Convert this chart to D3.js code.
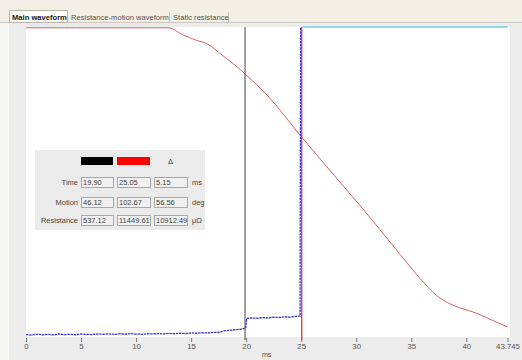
<!DOCTYPE html>
<html><head><meta charset="utf-8">
<script src="https://cdn.jsdelivr.net/npm/d3@7"></script>
<style>
html,body{margin:0;padding:0;background:#f6f6f3;}
svg{display:block;font-family:"Liberation Sans",Arial,sans-serif;}
</style></head>
<body><svg id="c" width="522" height="360"></svg>
<script>
// ---- data ----
const tabs = ["Main waveform", "Resistance-motion waveform", "Static resistance"];
const xTicks = [0, 5, 10, 15, 20, 25, 30, 35, 40, 43.745];
const xUnit = "ms";

// motion trace (red), deg
const motionTime = [0, 12.9, 14.3, 15.4, 16.5, 17.8, 19.2, 20.0, 21.9, 25.05, 28.0, 31.3, 34.0, 36.3, 37.3, 38.3, 39.5, 40.9, 41.9, 43.745];
const motionVal  = [3.0, 3.0, 9.6, 14.1, 17.8, 27.8, 38.7, 46.0, 64.3, 102.7, 137.5, 176.4, 209.7, 237.1, 247.0, 253.5, 258.5, 263.0, 267.5, 275.7];

// resistance trace (blue), µΩ
const resTime = [0,0.5,1,1.5,2,2.5,3,3.5,4,4.5,5,5.5,6,6.5,7,7.5,8,8.5,9,9.5,10,10.5,11,11.5,12,12.5,13,13.5,14,14.5,15,15.5,16,16.5,17,17.5,18,18.5,19,19.5,19.95,20.05,20.5,21,21.5,22,22.5,23,23.5,24,24.5,24.9,24.95];
const resVal  = [190,150,210,170,200,160,230,180,210,175,240,200,190,230,210,250,200,240,215,260,230,210,250,235,260,240,280,250,290,270,300,290,330,310,360,350,470,520,560,600,690,1430,1470,1450,1500,1480,1530,1510,1560,1540,1600,1620,24000];

// over-range trace (cyan)
const overTime = [25.15, 43.745];
const overVal  = [24000, 24000];

// cursors
const cursorTimes = [19.90, 25.05];
const cursorColors = ["#000000", "#ff0000"];
const rowLabels = ["Time", "Motion", "Resistance"];
const rowUnits = ["ms", "deg", "μΩ"];
const rowValues = [
  ["19.90", "25.05", "5.15"],
  ["46.12", "102.67", "56.56"],
  ["537.12", "11449.61", "10912.49"]
];

// ---- drawing ----
(function(){
const svg = d3.select("#c");

// tab strip
svg.append("rect").attr("x",0).attr("y",0).attr("width",522).attr("height",23).attr("fill","#f1efe6");
svg.append("rect").attr("x",0).attr("y",23).attr("width",522).attr("height",337).attr("fill","#f7f7f5");
svg.append("rect").attr("x",9).attr("y",23).attr("width",513).attr("height",337).attr("fill","#ececec");
svg.append("line").attr("x1",0).attr("x2",522).attr("y1",22.5).attr("y2",22.5).attr("stroke","#c9c7bd");

const tabX = [9, 68, 170];
const tabW = [58, 101, 58];
tabs.forEach((t,i)=>{
  if(i===0){
    svg.append("rect").attr("x",tabX[i]+0.5).attr("y",10.5).attr("width",tabW[i]).attr("height",12)
      .attr("fill","#fcfcfa").attr("stroke","#b8b6ac");
  } else {
    svg.append("line").attr("x1",tabX[i]+tabW[i]+0.5).attr("x2",tabX[i]+tabW[i]+0.5).attr("y1",12).attr("y2",22).attr("stroke","#c4c2b8");
  }
  svg.append("text").attr("x",tabX[i]+3).attr("y",19.5)
    .attr("font-size",7.6).attr("font-weight",i===0?"bold":"normal")
    .attr("fill",i===0?"#222":"#555").text(t);
});

// plot area
const pLeft = 26, pRight = 507.5, pTop = 27, pBottom = 337;
svg.append("rect").attr("x",pLeft).attr("y",pTop).attr("width",510-pLeft).attr("height",pBottom-pTop).attr("fill","#ffffff");

const x = d3.scaleLinear().domain([0, 43.745]).range([pLeft, pRight]);
const yMotion = d3.scaleLinear().domain([0, 282]).range([24.5, 333.9]);
const yRes = d3.scaleLinear().domain([0, 24000]).range([pBottom, pTop]);

// x axis
const ax = svg.append("g").attr("transform",`translate(0,${pBottom})`)
  .call(d3.axisBottom(x).tickValues(xTicks).tickSize(4).tickPadding(2)
    .tickFormat(d => d === 43.745 ? "43.745" : d3.format("d")(d)));
ax.select(".domain").remove();
ax.selectAll(".tick line").attr("stroke","#777").attr("transform","translate(0,1)");
ax.selectAll(".tick text").attr("font-size",7.8).attr("fill","#555")
  .attr("font-family","Liberation Sans, Arial, sans-serif");
svg.append("text").attr("x",262).attr("y",357).attr("font-size",7).attr("fill","#555").text(xUnit);

// lines
const motionLine = d3.line().x((d,i)=>x(motionTime[i])).y(d=>yMotion(d)).curve(d3.curveMonotoneX);
const resLine = d3.line().x((d,i)=>x(resTime[i])).y(d=>yRes(d));
const overLine = d3.line().x((d,i)=>x(overTime[i])).y(d=>yRes(d));

svg.append("path").attr("d",overLine(overVal)).attr("fill","none").attr("stroke","#6fd0dc").attr("stroke-width",1.6);
svg.append("path").attr("d",motionLine(motionVal)).attr("fill","none").attr("stroke","#d9625f").attr("stroke-width",1);
svg.append("path").attr("d",resLine(resVal)).attr("fill","none").attr("stroke","#3a3ac8").attr("stroke-width",1.3)
  .attr("stroke-dasharray","2.5,0.7");

// cursors
cursorTimes.forEach((t,i)=>{
  svg.append("line").attr("x1",x(t)).attr("x2",x(t)).attr("y1",pTop).attr("y2",pBottom+3)
    .attr("stroke",i===0?"#444":"#e03838").attr("stroke-width",i===0?1:1.3);
});

// cursor readout box
const bx = 35, by = 150;
svg.append("rect").attr("x",bx).attr("y",by).attr("width",170).attr("height",80).attr("fill","#ebebeb");
const colX = [81, 117, 154];
const colW = [32, 33, 33];
cursorColors.forEach((c,i)=>{
  svg.append("rect").attr("x",colX[i]).attr("y",157).attr("width",colW[i]).attr("height",8).attr("fill",c);
});
svg.append("text").attr("x",colX[2]+colW[2]/2).attr("y",164).attr("text-anchor","middle")
  .attr("font-size",7.5).attr("fill","#333").text("Δ");
const rowY = [177, 197, 215];
rowLabels.forEach((lab,r)=>{
  svg.append("text").attr("x",78).attr("y",rowY[r]+8.3).attr("text-anchor","end")
    .attr("font-size",7.5).attr("fill","#444").text(lab);
  rowValues[r].forEach((v,cI)=>{
    svg.append("rect").attr("x",colX[cI]+0.5).attr("y",rowY[r]+0.5).attr("width",colW[cI]).attr("height",10)
      .attr("fill","#f0f0f0").attr("stroke","#a8a8a8");
    svg.append("text").attr("x",colX[cI]+2).attr("y",rowY[r]+8.3)
      .attr("font-size",7.5).attr("fill","#444").text(v);
  });
  svg.append("text").attr("x",192).attr("y",rowY[r]+8.3)
    .attr("font-size",7.5).attr("fill","#444").text(rowUnits[r]);
});
})();
</script></body></html>
